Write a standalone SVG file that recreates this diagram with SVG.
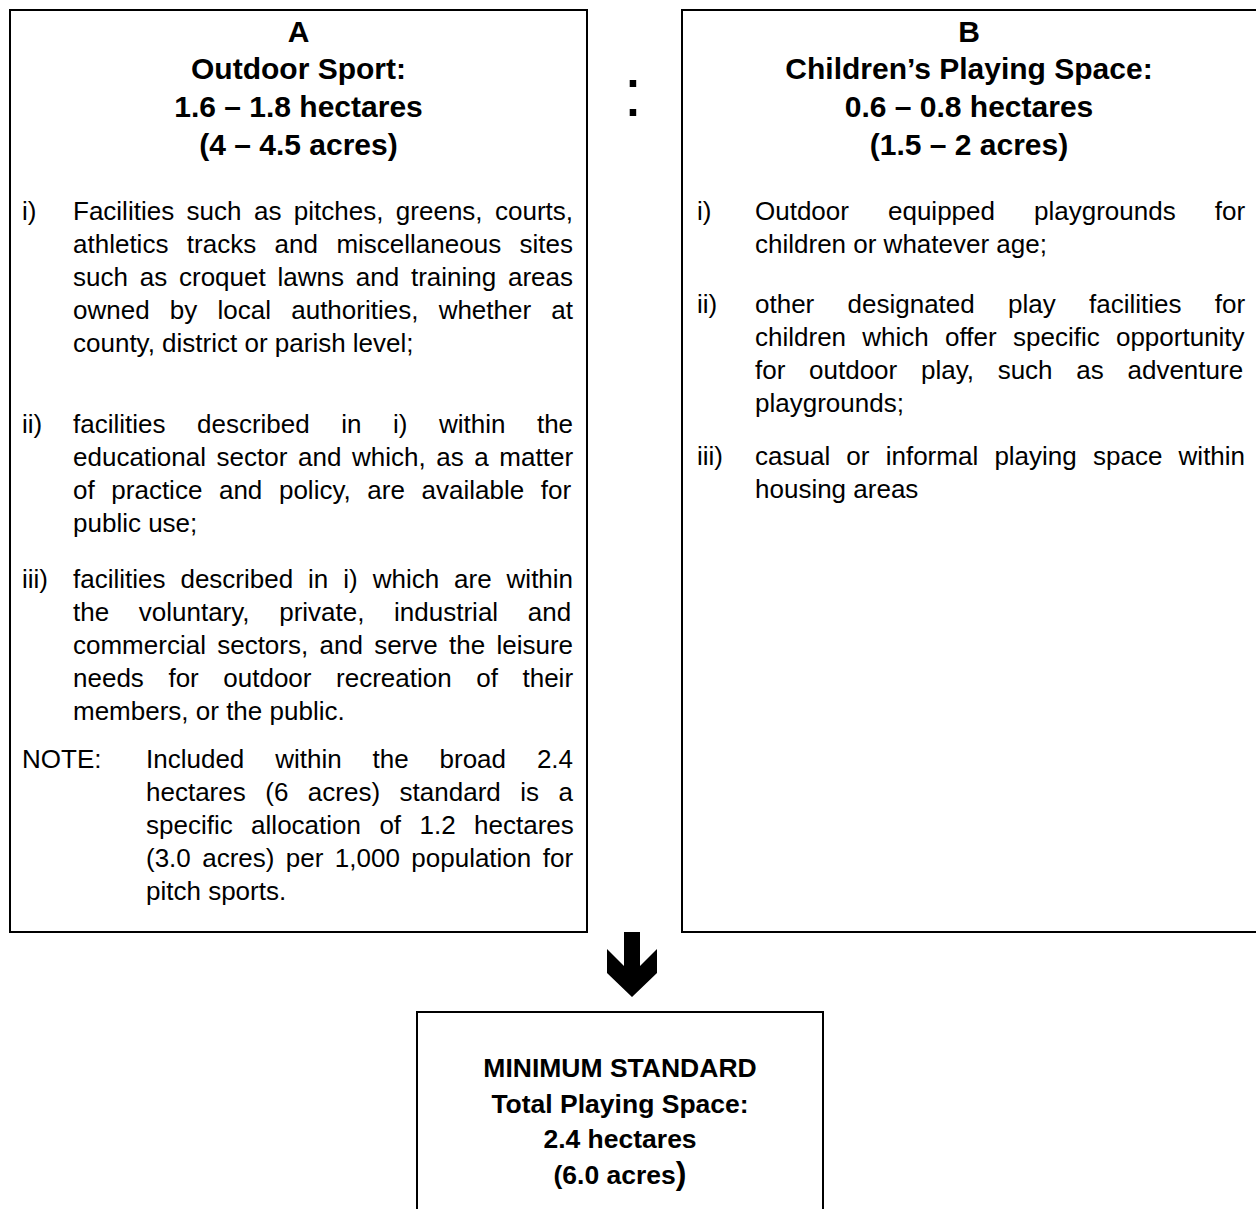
<svg xmlns="http://www.w3.org/2000/svg" width="1256" height="1209" viewBox="0 0 1256 1209">
<style>
.box{fill:#fff;stroke:#000;stroke-width:2}
.t{font-family:"Liberation Sans",Arial,sans-serif;font-weight:bold;font-size:30px;text-anchor:middle;fill:#000}
.m{font-family:"Liberation Sans",Arial,sans-serif;font-weight:bold;font-size:26.5px;text-anchor:middle;fill:#000}
.b{font-family:"Liberation Sans",Arial,sans-serif;font-size:26px;fill:#000}
.c{font-family:"Liberation Sans",Arial,sans-serif;font-size:68px;text-anchor:middle;fill:#000}
</style>
<rect width="1256" height="1209" fill="#fff"/>
<g id="node-a">
<rect class="box" x="10" y="10" width="577" height="922"/>
<text class="t" x="298.5" y="42">A</text>
<text class="t" x="298.5" y="79">Outdoor Sport:</text>
<text class="t" x="298.5" y="117">1.6 – 1.8 hectares</text>
<text class="t" x="298.5" y="155">(4 – 4.5 acres)</text>
<text class="b" x="22" y="220">i)</text>
<text class="b" x="73" y="220" word-spacing="5.21">Facilities such as pitches, greens, courts,</text>
<text class="b" x="73" y="253" word-spacing="11.21">athletics tracks and miscellaneous sites</text>
<text class="b" x="73" y="286" word-spacing="4.57">such as croquet lawns and training areas</text>
<text class="b" x="73" y="319" word-spacing="13.0">owned by local authorities, whether at</text>
<text class="b" x="73" y="352">county, district or parish level;</text>
<text class="b" x="22" y="433">ii)</text>
<text class="b" x="73" y="433" word-spacing="24.29">facilities described in i) within the</text>
<text class="b" x="73" y="466" word-spacing="3.37">educational sector and which, as a matter</text>
<text class="b" x="73" y="499" word-spacing="9.39">of practice and policy, are available for</text>
<text class="b" x="73" y="532">public use;</text>
<text class="b" x="22" y="588">iii)</text>
<text class="b" x="73" y="588" word-spacing="7.72">facilities described in i) which are within</text>
<text class="b" x="73" y="621" word-spacing="22.4">the voluntary, private, industrial and</text>
<text class="b" x="73" y="654" word-spacing="4.06">commercial sectors, and serve the leisure</text>
<text class="b" x="73" y="687" word-spacing="17.34">needs for outdoor recreation of their</text>
<text class="b" x="73" y="720">members, or the public.</text>
<text class="b" x="22" y="768">NOTE:</text>
<text class="b" x="146" y="768" word-spacing="23.65">Included within the broad 2.4</text>
<text class="b" x="146" y="801" word-spacing="12.28">hectares (6 acres) standard is a</text>
<text class="b" x="146" y="834" word-spacing="11.2">specific allocation of 1.2 hectares</text>
<text class="b" x="146" y="867" word-spacing="4.18">(3.0 acres) per 1,000 population for</text>
<text class="b" x="146" y="900">pitch sports.</text>
</g>
<g id="node-b">
<rect class="box" x="682" y="10" width="580" height="922"/>
<text class="t" x="969" y="42">B</text>
<text class="t" x="969" y="79">Children’s Playing Space:</text>
<text class="t" x="969" y="117">0.6 – 0.8 hectares</text>
<text class="t" x="969" y="155">(1.5 – 2 acres)</text>
<text class="b" x="697" y="220">i)</text>
<text class="b" x="755" y="220" word-spacing="31.82">Outdoor equipped playgrounds for</text>
<text class="b" x="755" y="253">children or whatever age;</text>
<text class="b" x="697" y="313">ii)</text>
<text class="b" x="755" y="313" word-spacing="26.04">other designated play facilities for</text>
<text class="b" x="755" y="346" word-spacing="9.07">children which offer specific opportunity</text>
<text class="b" x="755" y="379" word-spacing="16.49">for outdoor play, such as adventure</text>
<text class="b" x="755" y="412">playgrounds;</text>
<text class="b" x="697" y="465">iii)</text>
<text class="b" x="755" y="465" word-spacing="8.99">casual or informal playing space within</text>
<text class="b" x="755" y="498">housing areas</text>
</g>
<g id="node-total">
<rect class="box" x="417" y="1012" width="406" height="230"/>
<text class="m" x="620" y="1077">MINIMUM STANDARD</text>
<text class="m" x="620" y="1113">Total Playing Space:</text>
<text class="m" x="620" y="1148">2.4 hectares</text>
<text class="m" x="620" y="1184">(6.0 acres<tspan font-size="32px">)</tspan></text>
</g>
<g id="connectors">
<text class="c" x="633" y="116">:</text>
<polygon points="624,932 640,932 640,966 657,949 657,973 632,997 607,973 607,949 624,966" fill="#000"/>
</g>
</svg>
